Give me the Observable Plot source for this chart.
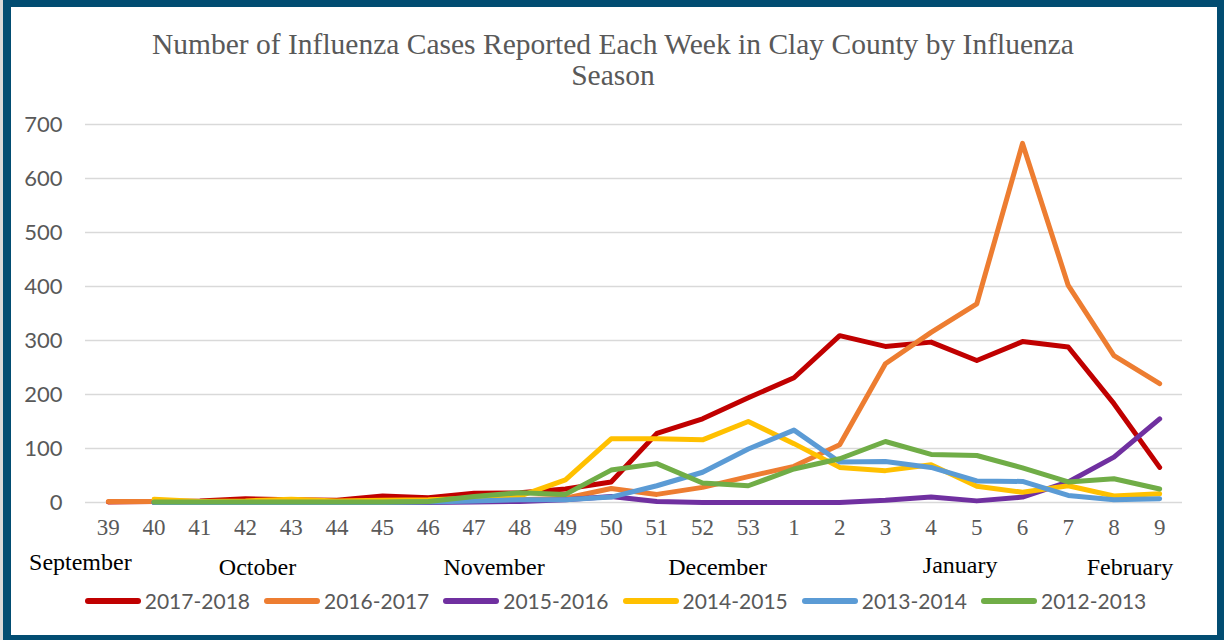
<!DOCTYPE html>
<html>
<head>
<meta charset="utf-8">
<script src="https://cdn.jsdelivr.net/npm/d3@7"></script>
<script src="https://cdn.jsdelivr.net/npm/@observablehq/plot@0.6"></script>
<style>
  html, body { margin: 0; padding: 0; background: #fff; }
  #wrap { position: relative; width: 1224px; height: 640px; background: #024d72; overflow: hidden; }
  #strip { position: absolute; left: 0; top: 0; width: 3px; height: 640px; background: #d9d9d9; }
  #inner { position: absolute; left: 11px; top: 7px; width: 1206px; height: 628px; background: #fff; }
  #title { position: absolute; left: 0; top: 29px; width: 1226px; text-align: center;
           font-family: "Liberation Serif", "Times New Roman", serif; font-size: 29.5px; line-height: 31px; color: #595959; }
  #chart { position: absolute; left: 0; top: 0; }
  #legend { position: absolute; left: 9px; top: 588px; width: 1213px; display: flex; justify-content: center; align-items: center;
            font-family: Lato, "Liberation Sans", sans-serif; font-size: 21px; color: #595959; }
  .item { display: flex; align-items: center; margin: 0 7px; }
  .item svg { margin-right: 4px; }
</style>
</head>
<body>
<div id="wrap">
  <div id="strip"></div>
  <div id="inner"></div>
  <div id="chart"></div>
  <div id="title">Number of Influenza Cases Reported Each Week in Clay County by Influenza<br>Season</div>
  <div id="legend"></div>
</div>
<script>
// ---- Data ----
const weeks = ["39","40","41","42","43","44","45","46","47","48","49","50","51","52","53","1","2","3","4","5","6","7","8","9"];
const seasons = ["2017-2018","2016-2017","2015-2016","2014-2015","2013-2014","2012-2013"];
const colors = ["#c00000","#ed7d31","#7030a0","#ffc000","#5b9bd5","#70ad47"];
const s2017_2018 = [1,2,3,7,5,4,12,9,17,18,25,38,128,155,194,231,309,289,297,263,298,288,183,65];
const s2016_2017 = [2,2,1,1,2,1,1,2,3,5,8,26,15,28,48,67,107,257,315,368,665,402,272,220];
const s2015_2016 = [null,0,0,0,0,0,0,0,1,2,5,11,2,0,0,0,0,4,10,3,10,38,84,155];
const s2014_2015 = [null,6,2,3,6,3,4,5,8,12,42,118,118,116,150,109,65,59,70,30,19,31,12,16];
const s2013_2014 = [null,0,0,0,0,0,0,1,3,5,5,10,31,56,99,134,75,76,65,40,39,13,5,7];
const s2012_2013 = [null,1,1,1,1,1,1,2,11,18,15,60,72,36,31,62,81,113,89,87,64,38,44,25];
const yTicks = [0,100,200,300,400,500,600,700];
const months = ["September","October","November","December","January","February"];
const monthWeeks = ["39","42","47","52","4","8"];

const seriesValues = [s2017_2018, s2016_2017, s2015_2016, s2014_2015, s2013_2014, s2012_2013];
const rows = [];
seasons.forEach((s, i) => {
  seriesValues[i].forEach((v, j) => {
    if (v !== null) rows.push({season: s, week: weeks[j], value: v});
  });
});
const monthRows = months.map((m, i) => ({month: m, week: monthWeeks[i]}));
const monthDx = {September: -28, October: 12, November: 20, December: 15, January: 29, February: 16};
const monthDy = {September: 60, October: 65, November: 65, December: 65, January: 63, February: 65};

const chart = Plot.plot({
  width: 1224,
  height: 640,
  marginTop: 124,
  marginBottom: 138,
  marginLeft: 85,
  marginRight: 42,
  style: {background: "transparent", overflow: "visible"},
  x: {type: "point", domain: weeks, padding: 0.5, round: false, label: null},
  y: {domain: [0, 700], label: null},
  color: {domain: seasons, range: colors},
  marks: [
    Plot.ruleY(yTicks, {stroke: "#d9d9d9", strokeWidth: 1.5}),
    Plot.axisY({ticks: yTicks, tickSize: 0, tickPadding: 23, label: null,
      fontFamily: "Lato, 'Liberation Sans', sans-serif", fontSize: 22, fill: "#595959"}),
    Plot.axisX({tickSize: 0, tickPadding: 16, label: null,
      fontFamily: "'Liberation Serif', 'Times New Roman', serif", fontSize: 23, fill: "#595959"}),
    ...seasons.map((s, i) => Plot.line(rows.filter(d => d.season === s), {
      x: "week", y: "value", stroke: colors[i], strokeWidth: 5,
      strokeLinejoin: "round", strokeLinecap: "round"
    })),
    ...monthRows.map(d => Plot.text([d], {
      x: "week", frameAnchor: "bottom", text: "month",
      dx: monthDx[d.month], dy: monthDy[d.month], lineAnchor: "middle",
      fontFamily: "'Liberation Serif', 'Times New Roman', serif", fontSize: 24, fill: "#000"
    }))
  ]
});
document.getElementById("chart").appendChild(chart);

// ---- Legend ----
const legend = document.getElementById("legend");
seasons.forEach((s, i) => {
  const item = document.createElement("div");
  item.className = "item";
  item.innerHTML = `<svg width="56" height="12"><line x1="3" y1="6" x2="53" y2="6" stroke="${colors[i]}" stroke-width="6" stroke-linecap="round"/></svg><span>${s}</span>`;
  legend.appendChild(item);
});
</script>
</body>
</html>
